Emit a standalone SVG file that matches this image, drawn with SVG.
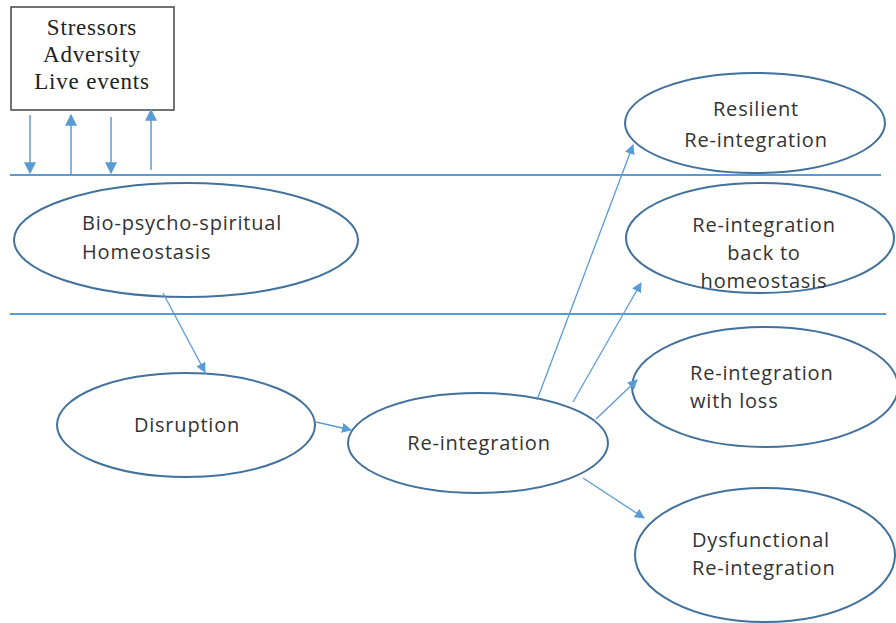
<svg xmlns="http://www.w3.org/2000/svg" width="896" height="623" viewBox="0 0 896 623">
<defs>
<marker id="ah" viewBox="0 0 10 10" refX="9" refY="5" markerWidth="10" markerHeight="10" markerUnits="userSpaceOnUse" orient="auto">
<path d="M0,0 L10,5 L0,10 z" fill="#5B9BD5"/>
</marker>
<marker id="ahb" viewBox="0 0 10 10" refX="9" refY="5" markerWidth="12" markerHeight="12" markerUnits="userSpaceOnUse" orient="auto">
<path d="M0,0 L10,5 L0,10 z" fill="#5B9BD5"/>
</marker>
</defs>
<style>
.el{fill:#fff;stroke:#41719C;stroke-width:2}
.t{font-family:"Open Sans","Noto Sans",sans-serif;font-size:20px;letter-spacing:0.8px;fill:#333}
.s{font-family:"Liberation Serif",serif;font-size:23px;letter-spacing:0.8px;fill:#222;text-anchor:middle}
.c{stroke:#5B9BD5;stroke-width:1.3;fill:none;marker-end:url(#ah)}
.v{stroke:#5B9BD5;stroke-width:1.5;fill:none;marker-end:url(#ahb)}
.h{stroke:#5B9BD5;stroke-width:2}
</style>
<rect width="896" height="623" fill="#fff"/>
<g id="stressors">
<rect x="11" y="7" width="163" height="103" fill="#fff" stroke="#444" stroke-width="1.5"/>
<text class="s" x="92" y="35">Stressors</text>
<text class="s" x="92" y="62">Adversity</text>
<text class="s" x="92" y="89">Live events</text>
</g>
<g id="lines">
<line class="h" x1="10" y1="175" x2="881" y2="175"/>
<line class="h" x1="10" y1="314" x2="886" y2="314"/>
</g>
<g id="bio">
<ellipse class="el" cx="186" cy="240" rx="172" ry="57"/>
<text class="t" x="82" y="230">Bio-psycho-spiritual</text>
<text class="t" x="82" y="259">Homeostasis</text>
</g>
<g id="disruption">
<ellipse class="el" cx="186" cy="425" rx="129" ry="52"/>
<text class="t" x="187" y="432" text-anchor="middle">Disruption</text>
</g>
<g id="reintegration">
<ellipse class="el" cx="478" cy="443" rx="130" ry="50"/>
<text class="t" x="479" y="450" text-anchor="middle">Re-integration</text>
</g>
<g id="resilient">
<ellipse class="el" cx="755" cy="123" rx="130" ry="50"/>
<text class="t" x="756" y="116" text-anchor="middle">Resilient</text>
<text class="t" x="756" y="147" text-anchor="middle">Re-integration</text>
</g>
<g id="homeostasis">
<ellipse class="el" cx="760" cy="238" rx="134" ry="55"/>
<text class="t" x="764" y="232" text-anchor="middle">Re-integration</text>
<text class="t" x="764" y="260" text-anchor="middle">back to</text>
<text class="t" x="764" y="288" text-anchor="middle">homeostasis</text>
</g>
<g id="loss">
<ellipse class="el" cx="765" cy="387" rx="133" ry="60"/>
<text class="t" x="690" y="380">Re-integration</text>
<text class="t" x="690" y="408">with loss</text>
</g>
<g id="dysfunctional">
<ellipse class="el" cx="765" cy="555" rx="130" ry="67"/>
<text class="t" x="692" y="547">Dysfunctional</text>
<text class="t" x="692" y="575">Re-integration</text>
</g>
<g id="connectors">
<line class="v" x1="30" y1="115" x2="30" y2="173"/>
<line class="v" x1="71" y1="175" x2="71" y2="115"/>
<line class="v" x1="111" y1="117" x2="111" y2="173"/>
<line class="v" x1="151" y1="170" x2="151" y2="110"/>
<line class="c" x1="163" y1="293" x2="205" y2="372"/>
<line class="c" x1="316" y1="422" x2="351" y2="430"/>
<line class="c" x1="537" y1="400" x2="633" y2="145"/>
<line class="c" x1="573" y1="402" x2="641" y2="283"/>
<line class="c" x1="596" y1="419" x2="637" y2="380"/>
<line class="c" x1="583" y1="478" x2="644" y2="518"/>
</g>
</svg>
